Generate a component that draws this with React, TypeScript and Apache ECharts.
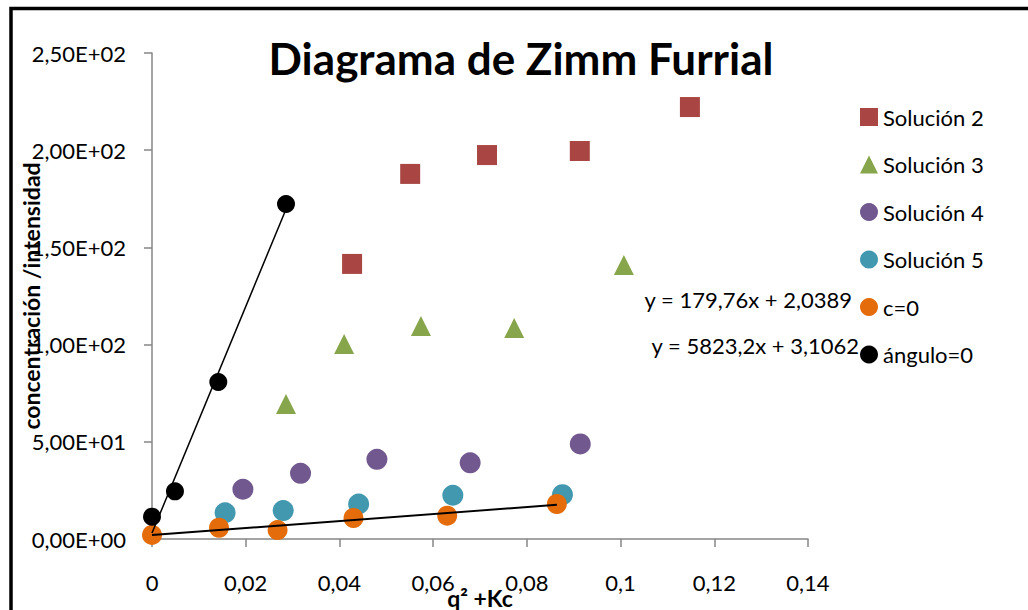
import React, { useEffect, useRef } from "react";
import * as echarts from "echarts";

const seriesNames = ["Solución 2", "Solución 3", "Solución 4", "Solución 5", "c=0", "ángulo=0"];

const sol2X = [0.0427, 0.0551, 0.0715, 0.0913, 0.1148];
const sol2Y = [141.5, 187.8, 197.5, 199.6, 222.2];

const sol3X = [0.0286, 0.041, 0.0574, 0.0773, 0.1007];
const sol3Y = [69.4, 100.3, 109.6, 108.5, 141.0];

const sol4X = [0.0194, 0.0317, 0.048, 0.0679, 0.0914];
const sol4Y = [25.6, 33.8, 41.0, 39.2, 48.9];

const sol5X = [0.0156, 0.028, 0.0441, 0.0642, 0.0876];
const sol5Y = [13.5, 14.6, 18.0, 22.5, 22.8];

const c0X = [0, 0.0143, 0.0268, 0.043, 0.063, 0.0864];
const c0Y = [2.1, 5.8, 4.6, 10.8, 12.0, 18.0];

const ang0X = [0, 0.0049, 0.01415, 0.0286];
const ang0Y = [11.5, 24.5, 80.8, 172.3];

const trendC0 = { slope: 179.76, intercept: 2.0389, label: "y = 179,76x + 2,0389" };
const trendAng0 = { slope: 5823.2, intercept: 3.1062, label: "y = 5823,2x + 3,1062" };

const xTicks = { min: 0, max: 0.14, interval: 0.02 };
const yTicks = { min: 0, max: 250, interval: 50 };

const colors = ["#A94643", "#87A54B", "#71588F", "#4198AF", "#E46C0A", "#000000"];

const FONT = "Lato, 'Open Sans', sans-serif";

function zip(xs: number[], ys: number[]) {
  return xs.map((x, i) => [x, ys[i]]);
}

function trendData(t: { slope: number; intercept: number }, xs: number[]) {
  const x0 = Math.min(...xs);
  const x1 = Math.max(...xs);
  return [
    [x0, t.slope * x0 + t.intercept],
    [x1, t.slope * x1 + t.intercept],
  ];
}

function fmtY(v: number) {
  const s = v.toExponential(2);
  const [m, e] = s.split("e");
  const sign = e[0] === "-" ? "-" : "+";
  const digits = e.replace(/[+-]/, "").padStart(2, "0");
  return m.replace(".", ",") + "E" + sign + digits;
}

function fmtX(v: number) {
  return parseFloat(v.toFixed(4)).toString().replace(".", ",");
}

export default function App() {
  const ref = useRef<HTMLDivElement>(null);
  useEffect(() => {
    if (!ref.current) return;
    const chart = echarts.init(ref.current, null, { renderer: "svg" });
    const symbols = ["rect", "triangle", "circle", "circle", "circle", "circle"];
    const sizes = [20, 20, 21, 21, 20, 18];
    const data = [
      zip(sol2X, sol2Y),
      zip(sol3X, sol3Y),
      zip(sol4X, sol4Y),
      zip(sol5X, sol5Y),
      zip(c0X, c0Y),
      zip(ang0X, ang0Y),
    ];
    const scatter = seriesNames.map((name, i) => ({
      name,
      type: "scatter",
      symbol: symbols[i],
      symbolSize: sizes[i],
      itemStyle: { color: colors[i], opacity: 1 },
      data: data[i],
      z: 3,
    }));
    chart.setOption({
      animation: false,
      backgroundColor: "#ffffff",
      grid: { left: 152, right: 220, top: 53, bottom: 71, containLabel: false, outerBoundsMode: "none" },
      xAxis: {
        type: "value",
        min: xTicks.min,
        max: xTicks.max,
        interval: xTicks.interval,
        name: "q² +Kc",
        nameLocation: "middle",
        nameGap: 47,
        nameMoveOverlap: false,
        nameTextStyle: { fontFamily: FONT, fontWeight: "bold", fontSize: 23, color: "#000" },
        axisLine: { show: true, lineStyle: { color: "#868686", width: 1.5 } },
        axisTick: { show: true, inside: false, length: 8, lineStyle: { color: "#868686", width: 1.5 } },
        axisLabel: { formatter: fmtX, fontFamily: FONT, fontSize: 22, color: "#000", margin: 32 },
        splitLine: { show: false },
      },
      yAxis: {
        type: "value",
        min: yTicks.min,
        max: yTicks.max,
        interval: yTicks.interval,
        name: "concentración /intensidad",
        nameLocation: "middle",
        nameGap: 110,
        nameMoveOverlap: false,
        nameRotate: 90,
        nameTextStyle: { fontFamily: FONT, fontWeight: "bold", fontSize: 23, color: "#000" },
        axisLine: { show: true, lineStyle: { color: "#868686", width: 1.5 } },
        axisTick: { show: true, inside: false, length: 8, lineStyle: { color: "#868686", width: 1.5 } },
        axisLabel: { formatter: fmtY, fontFamily: FONT, fontSize: 22, color: "#000", margin: 26 },
        splitLine: { show: false },
      },
      legend: {
        orient: "vertical",
        left: 855,
        top: 101,
        itemWidth: 18,
        itemHeight: 18,
        itemGap: 25.5,
        data: seriesNames,
        textStyle: { fontFamily: FONT, fontSize: 22, color: "#000", lineHeight: 20 },
      },
      series: [
        ...scatter,
        {
          type: "line",
          data: trendData(trendC0, c0X),
          symbol: "none",
          lineStyle: { color: "#000", width: 2 },
          z: 4,
          silent: true,
        },
        {
          type: "line",
          data: trendData(trendAng0, ang0X),
          symbol: "none",
          lineStyle: { color: "#000", width: 1.5 },
          z: 4,
          silent: true,
        },
      ],
      graphic: [
        {
          type: "rect",
          shape: { x: 11, y: 8.5, width: 1100, height: 700 },
          style: { fill: "none", stroke: "#000", lineWidth: 3.5 },
          silent: true,
        },
        {
          type: "text",
          x: 521,
          y: 58,
          style: {
            text: "Diagrama de Zimm Furrial",
            fontFamily: FONT,
            fontWeight: "bold",
            fontSize: 44,
            fill: "#000",
            align: "center",
            verticalAlign: "middle",
          },
        },
        {
          type: "text",
          x: 852,
          y: 299,
          style: { text: trendC0.label, fontFamily: FONT, fontSize: 22, fill: "#000", align: "right", verticalAlign: "middle" },
        },
        {
          type: "text",
          x: 859,
          y: 345,
          style: { text: trendAng0.label, fontFamily: FONT, fontSize: 22, fill: "#000", align: "right", verticalAlign: "middle" },
        },
      ],
    });
    return () => chart.dispose();
  }, []);
  return (
    <div
      ref={ref}
      style={{ position: "fixed", left: 0, top: 0, width: 1028, height: 610, background: "#fff" }}
    />
  );
}
